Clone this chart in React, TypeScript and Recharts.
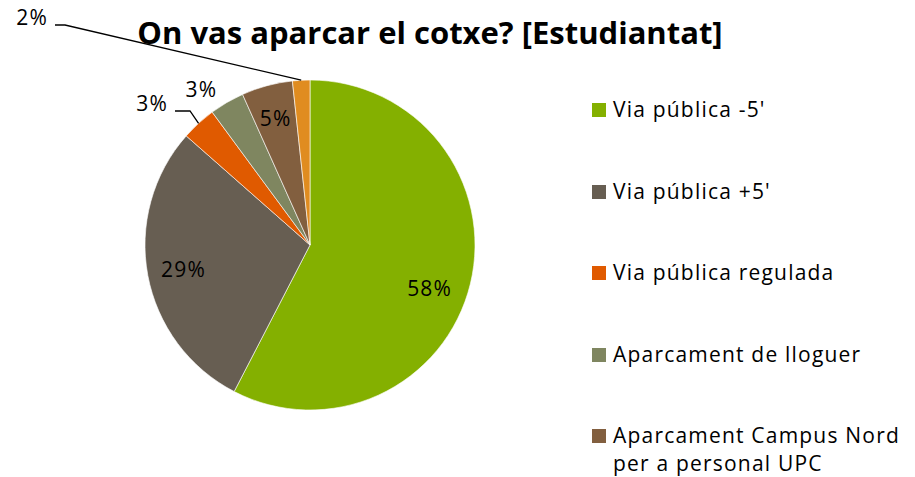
import { PieChart, Pie, Cell } from 'recharts';

document.body.style.margin = '0';

const CATEGORIES = [
  'Via pública -5\'',
  'Via pública +5\'',
  'Via pública regulada',
  'Aparcament de lloguer',
  'Aparcament Campus Nord per a personal UPC',
  'Altres',
];
const VALUES = [57.6, 28.9, 3.4, 3.4, 5.0, 1.7];
const COLORS = ['#84b000', '#675e52', '#e05a00', '#7f8660', '#825f3f', '#e08c20'];

const data = CATEGORIES.map((name, i) => ({ name, value: VALUES[i] }));

const FONT = "'Open Sans', sans-serif";
const CX = 310;
const CY = 245;
const R = 165;

// label placement per slice: inside labels by radius factor (+ angle nudge), small slices get a leader line
const LABEL_LAYOUT: ({ r: number; da?: number } | { elbow: [number, number]; tail: number })[] = [
  { r: 0.77, da: -6 },
  { r: 0.78 },
  { elbow: [-120, -134], tail: 15 },
  { r: 1.15, da: 4.7 },
  { r: 0.8 },
  { elbow: [-245, -220], tail: 10 },
];

const RAD = Math.PI / 180;

function renderLabel(props: any) {
  const { cx, cy, midAngle, outerRadius, percent, index } = props;
  const text = `${Math.round(percent * 100)}%`;
  const layout = LABEL_LAYOUT[index];
  if ('r' in layout) {
    const rr = outerRadius * layout.r;
    const a = midAngle + (layout.da ?? 0);
    const x = cx + rr * Math.cos(-a * RAD);
    const y = cy + rr * Math.sin(-a * RAD);
    return (
      <text x={x} y={y} fill="#000" fontSize={21} letterSpacing={1.2} fontFamily={FONT} textAnchor="middle" dominantBaseline="central">
        {text}
      </text>
    );
  }
  const sx = cx + outerRadius * Math.cos(-midAngle * RAD);
  const sy = cy + outerRadius * Math.sin(-midAngle * RAD);
  const ex = cx + layout.elbow[0];
  const ey = cy + layout.elbow[1];
  const hx = ex - layout.tail;
  return (
    <g>
      <polyline points={`${sx},${sy} ${ex},${ey} ${hx},${ey}`} fill="none" stroke="#000" strokeWidth={1.3} />
      <text x={hx - 7} y={ey - 8} fill="#000" fontSize={21} letterSpacing={1.2} fontFamily={FONT} textAnchor="end" dominantBaseline="central">
        {text}
      </text>
    </g>
  );
}

const LEGEND_ITEMS = [
  ['Via pública -5\''],
  ['Via pública +5\''],
  ['Via pública regulada'],
  ['Aparcament de lloguer'],
  ['Aparcament Campus Nord', 'per a personal UPC'],
];

export default function App() {
  return (
    <div style={{ position: 'relative', width: 915, height: 477, background: '#fff', fontFamily: FONT }}>
      <div
        style={{
          position: 'absolute',
          left: 0,
          width: 860,
          top: 12,
          textAlign: 'center',
          fontSize: 31,
          fontWeight: 700,
          lineHeight: '40px',
          color: '#000',
        }}
      >
        On vas aparcar el cotxe? [Estudiantat]
      </div>
      <PieChart width={915} height={477} margin={{ top: 0, right: 0, bottom: 0, left: 0 }} style={{ position: 'absolute', left: 0, top: 0 }}>
        <Pie
          data={data}
          dataKey="value"
          nameKey="name"
          cx={CX}
          cy={CY}
          outerRadius={R}
          startAngle={90}
          endAngle={-270}
          stroke="rgba(255,255,255,0.6)"
          strokeWidth={1}
          label={renderLabel}
          labelLine={false}
          isAnimationActive={false}
        >
          {data.map((_d, idx) => (
            <Cell key={`cell-${idx}`} fill={COLORS[idx]} />
          ))}
        </Pie>
      </PieChart>
      <div style={{ position: 'absolute', left: 592, top: 96 }}>
        {LEGEND_ITEMS.map((lines, i) => (
          <div key={i} style={{ display: 'flex', alignItems: 'flex-start', marginBottom: 54.5 }}>
            <div style={{ width: 14, height: 14, background: COLORS[i], marginTop: 7, marginRight: 7 }} />
            <div style={{ fontSize: 21, lineHeight: '28px', letterSpacing: 1.2, color: '#000', marginTop: -1 }}>
              {lines.map((l, j) => (
                <div key={j}>{l}</div>
              ))}
            </div>
          </div>
        ))}
      </div>
    </div>
  );
}
